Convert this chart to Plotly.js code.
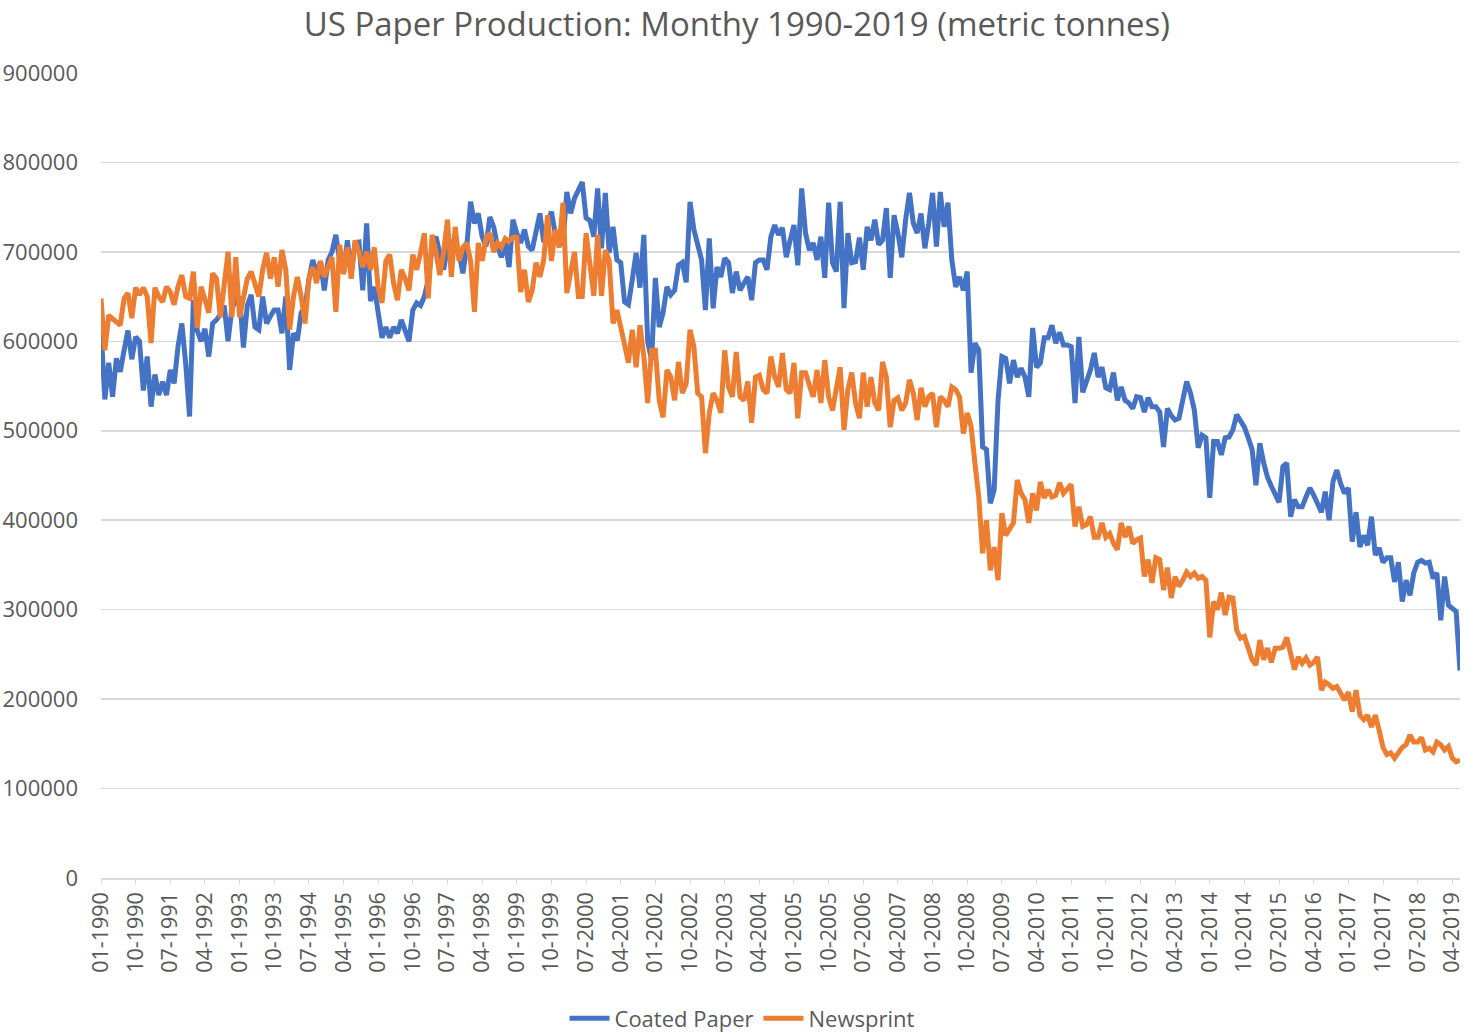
<!DOCTYPE html>
<html>
<head>
<meta charset="utf-8">
<script src="https://cdn.plot.ly/plotly-3.0.1.min.js"></script>
<style>
  html, body { margin: 0; padding: 0; background: #ffffff; }
  #chart { width: 1465px; height: 1035px; }
</style>
</head>
<body>
<div id="chart"></div>
<script>
// Monthly values, 01-1990 .. 06-2019 (metric tonnes)
const coatedPaper = [
  614000, 535000, 576000, 538000, 581000, 566000, 590000, 612000, 580000, 605000, 600000, 545000,
  583000, 527000, 563000, 540000, 555000, 540000, 568000, 553000, 594000, 620000, 575000, 516000,
  646000, 612000, 600000, 614000, 583000, 620000, 624000, 630000, 640000, 600000, 637000, 645000,
  650000, 593000, 640000, 652000, 616000, 613000, 650000, 620000, 628000, 635000, 635000, 609000,
  650000, 568000, 609000, 601000, 632000, 638000, 669000, 691000, 676000, 689000, 657000, 691000,
  700000, 719000, 690000, 676000, 713000, 676000, 710000, 711000, 657000, 732000, 645000, 661000,
  632000, 604000, 616000, 604000, 616000, 609000, 624000, 613000, 600000, 635000, 643000, 640000,
  650000, 669000, 705000, 717000, 699000, 680000, 706000, 713000, 705000, 699000, 676000, 706000,
  756000, 732000, 743000, 717000, 706000, 739000, 728000, 706000, 694000, 710000, 683000, 736000,
  721000, 710000, 725000, 706000, 702000, 725000, 743000, 711000, 732000, 745000, 720000, 708000,
  710000, 767000, 743000, 760000, 769000, 778000, 738000, 735000, 717000, 771000, 704000, 766000,
  699000, 728000, 691000, 688000, 644000, 641000, 669000, 699000, 660000, 719000, 600000, 579000,
  671000, 616000, 632000, 661000, 652000, 657000, 685000, 688000, 666000, 756000, 725000, 706000,
  691000, 635000, 715000, 637000, 683000, 672000, 693000, 688000, 654000, 678000, 657000, 665000,
  672000, 646000, 688000, 691000, 691000, 680000, 717000, 730000, 719000, 727000, 694000, 713000,
  730000, 685000, 771000, 721000, 702000, 710000, 691000, 717000, 671000, 755000, 688000, 678000,
  756000, 637000, 721000, 688000, 689000, 716000, 680000, 728000, 713000, 736000, 708000, 713000,
  749000, 671000, 741000, 721000, 694000, 736000, 766000, 732000, 721000, 743000, 704000, 732000,
  766000, 706000, 767000, 728000, 755000, 691000, 661000, 672000, 657000, 678000, 565000, 598000,
  590000, 482000, 479000, 419000, 434000, 534000, 583000, 581000, 553000, 579000, 560000, 570000,
  560000, 538000, 615000, 571000, 576000, 604000, 604000, 618000, 598000, 610000, 596000, 596000,
  594000, 531000, 605000, 543000, 557000, 568000, 587000, 560000, 571000, 548000, 546000, 565000,
  534000, 549000, 534000, 531000, 525000, 538000, 537000, 521000, 537000, 527000, 527000, 521000,
  482000, 525000, 517000, 512000, 514000, 537000, 555000, 542000, 523000, 481000, 495000, 492000,
  425000, 488000, 488000, 473000, 492000, 493000, 501000, 518000, 512000, 504000, 492000, 479000,
  439000, 486000, 464000, 448000, 438000, 430000, 420000, 460000, 464000, 404000, 423000, 415000,
  415000, 426000, 436000, 428000, 418000, 409000, 432000, 400000, 443000, 456000, 441000, 430000,
  436000, 376000, 409000, 370000, 383000, 372000, 404000, 361000, 369000, 353000, 358000, 358000,
  331000, 353000, 309000, 333000, 316000, 341000, 353000, 355000, 352000, 353000, 335000, 341000,
  288000, 337000, 305000, 302000, 298000, 232000
];

const newsprint = [
  648000, 590000, 629000, 625000, 622000, 618000, 648000, 654000, 626000, 660000, 652000, 660000,
  650000, 598000, 660000, 650000, 644000, 661000, 655000, 641000, 661000, 674000, 650000, 648000,
  678000, 615000, 661000, 646000, 632000, 676000, 670000, 627000, 660000, 700000, 627000, 694000,
  627000, 650000, 670000, 678000, 665000, 650000, 680000, 699000, 670000, 694000, 661000, 702000,
  680000, 613000, 650000, 672000, 650000, 620000, 670000, 683000, 665000, 690000, 672000, 685000,
  694000, 633000, 708000, 675000, 705000, 670000, 713000, 700000, 683000, 700000, 680000, 705000,
  660000, 643000, 690000, 697000, 665000, 646000, 680000, 670000, 657000, 697000, 680000, 699000,
  721000, 648000, 719000, 700000, 674000, 700000, 736000, 672000, 728000, 690000, 705000, 710000,
  690000, 633000, 710000, 690000, 715000, 721000, 700000, 710000, 705000, 715000, 712000, 716000,
  716000, 655000, 680000, 644000, 657000, 688000, 672000, 691000, 741000, 690000, 725000, 705000,
  755000, 654000, 680000, 700000, 650000, 650000, 721000, 680000, 651000, 719000, 651000, 702000,
  690000, 620000, 635000, 616000, 598000, 576000, 613000, 571000, 618000, 583000, 531000, 590000,
  590000, 534000, 515000, 568000, 560000, 534000, 577000, 542000, 553000, 613000, 594000, 542000,
  538000, 475000, 520000, 542000, 534000, 520000, 590000, 549000, 538000, 588000, 538000, 534000,
  555000, 509000, 560000, 562000, 546000, 542000, 583000, 560000, 549000, 587000, 546000, 542000,
  576000, 514000, 565000, 565000, 551000, 538000, 568000, 531000, 579000, 538000, 523000, 545000,
  571000, 501000, 546000, 565000, 531000, 514000, 565000, 527000, 560000, 531000, 523000, 577000,
  560000, 504000, 534000, 537000, 523000, 531000, 557000, 542000, 512000, 548000, 527000, 538000,
  542000, 504000, 538000, 534000, 527000, 549000, 546000, 538000, 497000, 520000, 505000, 464000,
  426000, 363000, 400000, 344000, 370000, 333000, 408000, 383000, 391000, 397000, 445000, 430000,
  423000, 397000, 430000, 411000, 443000, 425000, 434000, 426000, 428000, 442000, 430000, 436000,
  440000, 393000, 415000, 393000, 395000, 404000, 381000, 381000, 397000, 381000, 385000, 374000,
  367000, 397000, 381000, 393000, 374000, 378000, 380000, 337000, 356000, 330000, 358000, 356000,
  322000, 347000, 313000, 337000, 326000, 333000, 342000, 337000, 341000, 335000, 337000, 333000,
  269000, 309000, 300000, 319000, 294000, 314000, 313000, 277000, 268000, 270000, 258000, 244000,
  238000, 266000, 244000, 257000, 241000, 257000, 257000, 258000, 269000, 251000, 233000, 247000,
  240000, 246000, 238000, 241000, 247000, 210000, 219000, 216000, 212000, 214000, 205000, 199000,
  208000, 186000, 210000, 182000, 177000, 182000, 169000, 182000, 165000, 146000, 138000, 140000,
  134000, 141000, 146000, 149000, 160000, 152000, 152000, 157000, 143000, 145000, 141000, 152000,
  149000, 143000, 147000, 134000, 130000, 132000
];

// Month labels MM-YYYY starting at 01-1990
const startYear = 1990;
const months = [];
for (let i = 0; i < coatedPaper.length; i++) {
  const m = (i % 12) + 1;
  const y = startYear + Math.floor(i / 12);
  months.push((m < 10 ? '0' + m : '' + m) + '-' + y);
}
// Every 9th month is labelled on the axis
const tickLabels = months.filter((_, i) => i % 9 === 0);

const yTicks = [0, 100000, 200000, 300000, 400000, 500000, 600000, 700000, 800000, 900000];

const FONT = 'Open Sans, Liberation Sans, sans-serif';
const GREY = '#595959';

const traces = [
  {
    x: months, y: coatedPaper, name: 'Coated Paper', type: 'scatter', mode: 'lines',
    line: { color: '#4472C4', width: 5, shape: 'linear' }
  },
  {
    x: months, y: newsprint, name: 'Newsprint', type: 'scatter', mode: 'lines',
    line: { color: '#ED7D31', width: 5, shape: 'linear' }
  }
];

const layout = {
  width: 1465, height: 1035,
  paper_bgcolor: '#ffffff', plot_bgcolor: '#ffffff',
  margin: { l: 101, r: 5, t: 73, b: 157, autoexpand: false },
  font: { family: FONT, color: GREY, size: 20 },
  title: {
    text: 'US Paper Production: Monthy 1990-2019 (metric tonnes)',
    font: { family: FONT, size: 33, color: GREY },
    x: 0.503, xanchor: 'center', xref: 'container',
    y: 0.976, yanchor: 'middle'
  },
  showlegend: true,
  legend: {
    orientation: 'h', xref: 'container', x: 0.5065, xanchor: 'center',
    yref: 'container', y: 0.016, yanchor: 'middle',
    itemwidth: 40,
    font: { family: FONT, size: 22, color: GREY }, traceorder: 'normal'
  },
  xaxis: {
    type: 'category',
    range: [0, months.length - 1],
    tickmode: 'array', tickvals: tickLabels, ticktext: tickLabels,
    tickangle: -90,
    tickfont: { family: FONT, size: 21.5, color: GREY },
    showgrid: false,
    showline: true, linecolor: '#d9d9d9', linewidth: 1.5,
    ticks: 'outside', ticklen: 4, tickcolor: '#d9d9d9',
    zeroline: false, fixedrange: true, automargin: false
  },
  yaxis: {
    range: [0, 900000],
    tickmode: 'array', tickvals: yTicks, ticktext: yTicks.map(String),
    tickfont: { family: FONT, size: 22, color: GREY },
    showgrid: true, gridcolor: '#d9d9d9', gridwidth: 1.5,
    zeroline: false, showline: false, ticks: '',
    ticklabelstandoff: 22, fixedrange: true, automargin: false
  }
};

Plotly.newPlot('chart', traces, layout, { displayModeBar: false, staticPlot: true });
</script>
</body>
</html>
